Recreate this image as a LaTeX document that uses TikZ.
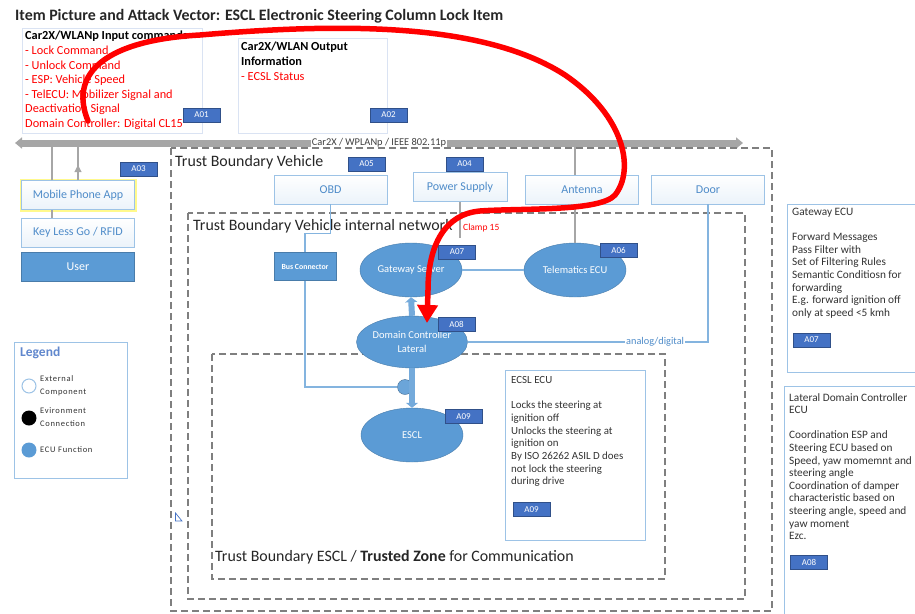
\documentclass[tikz,border=0pt]{standalone}
\usepackage{fontspec}
\setmainfont{Carlito}
\usetikzlibrary{arrows.meta,positioning,shapes.geometric}

\definecolor{tagblue}{HTML}{4472C4}
\definecolor{ecublue}{HTML}{5B9BD5}
\definecolor{boxline}{HTML}{9DC3E6}
\definecolor{paleline}{HTML}{DAE3F3}
\definecolor{busgray}{HTML}{A6A6A6}
\definecolor{dashgray}{HTML}{7F7F7F}
\definecolor{attackred}{HTML}{FF0000}
\definecolor{textblue}{HTML}{4F8CC9}

\begin{document}
\begin{tikzpicture}[x=1pt, y=-1pt,
	tag/.style = {draw=tagblue!70!black, fill=tagblue, text=white, font=\fontsize{9}{10}\selectfont, minimum width=37, minimum height=14, inner sep=0},
	ext/.style = {draw=boxline, line width=0.9, top color=white, bottom color=ecublue!12, text=textblue, font=\fontsize{12}{14}\selectfont, minimum width=113, minimum height=29, inner sep=0},
	ecu/.style = {ellipse, draw=ecublue!80!black, line width=0.4, fill=ecublue, text=white, font=\fontsize{10.5}{14}\selectfont, minimum width=102, minimum height=54, inner sep=0, align=center},
	zone/.style = {draw=dashgray, line width=1.5, dash pattern=on 7pt off 4pt},
	zonelabel/.style = {anchor=west, inner sep=0, font=\fontsize{15.9}{18}\selectfont, text=black!85},
	busline/.style = {draw=busgray, line width=1.2},
	eculine/.style = {draw=ecublue!75, line width=1.2},
	fat/.style = {draw=ecublue!85, line width=6},
	note/.style = {draw=boxline, line width=0.9},
	notetext/.style = {anchor=north west, align=left, inner sep=0, font=\fontsize{11.3}{12.6}\selectfont, text=black!80},
	legtext/.style = {anchor=west, align=left, inner sep=0, font=\fontsize{8.5}{13}\selectfont\addfontfeatures{LetterSpace=8}, text=black!80},
	attack/.style = {draw=attackred, line width=5.5, line cap=round, -{Triangle[width=20pt,length=18pt]}}
	]
	\useasboundingbox (0,0) rectangle (915,613);

	% title
	\node[anchor=west, inner sep=0, font=\fontsize{15.9}{18}\selectfont\bfseries, text=black!85] (title) at (15,16) {Item Picture and Attack Vector: ESCL Electronic Steering Column Lock Item};

	% Car2X input / output
	\node[draw=paleline, line width=0.8, minimum width=180, minimum height=105, anchor=north west, inner sep=0] (inbox) at (22,28) {};
	\node[anchor=north west, align=left, inner sep=0, font=\fontsize{12.3}{14.6}\selectfont] (intext) at (25,31)
		{\textbf{Car2X/WLANp Input commands}\\
		\color{attackred}- Lock Command\\
		\color{attackred}- Unlock Command\\
		\color{attackred}- ESP: Vehicle Speed\\
		\color{attackred}- TelECU: Mobilizer Signal and\\
		\color{attackred}Deactivation Signal\\
		\color{attackred}Domain Controller: Digital CL15};
	\node[tag] (a01) at (201.5,115) {A01};

	\node[draw=paleline, line width=0.8, minimum width=149, minimum height=95, anchor=north west, inner sep=0] (outbox) at (238,38) {};
	\node[anchor=north west, align=left, inner sep=0, font=\fontsize{12.3}{14.6}\selectfont] (outtext) at (241,42)
		{\textbf{Car2X/WLAN Output}\\
		\textbf{Information}\\
		\color{attackred}- ECSL Status};
	\node[tag] (a02) at (388.5,115) {A02};

	% bus
	\coordinate (bus w) at (15,143);
	\coordinate (bus e) at (743,143);
	\draw[draw=busgray, line width=7, {Triangle[width=11pt,length=7pt]}-{Triangle[width=11pt,length=7pt]}] (bus w) -- node[fill=white, inner sep=1pt, text=black!75, font=\fontsize{10.4}{11}\selectfont] (buslabel) {Car2X / WPLANp / IEEE 802.11p} (bus e);

	% outside the vehicle
	\node[ext, preaction={draw=yellow!45, line width=4}] (mob) at (78,195) {Mobile Phone App};
	\node[ext] (key) at (78,232.5) {Key Less Go / RFID};
	\node[ext, fill=ecublue, draw=ecublue!80!black, text=white, top color=ecublue, bottom color=ecublue] (user) at (78,267) {User};
	\node[tag] (a03) at (138.5,169) {A03};

	\draw[busline] ([xshift=-26pt]mob.north) -- ([xshift=-26pt]mob.north |- bus w);
	\draw[busline] ([xshift=-26pt]mob.south) -- ([xshift=-26pt]key.north);
	\draw[busline] (mob.north) -- (mob.north |- bus w);
	\draw[busline, -{Triangle[width=7pt,length=7pt]}] (mob.north) -- ++(0,-15);

	% legend
	\node[draw=boxline, line width=0.9, minimum width=113, minimum height=136, anchor=north west, inner sep=0] (legend) at (14,342) {};
	\node[anchor=west, inner sep=0, font=\fontsize{13.5}{15}\selectfont\bfseries, text=tagblue!85] (legtitle) at (20,353) {Legend};
	\node[circle, draw=boxline, line width=1, fill=white, minimum size=14, inner sep=0] (legext) at (29,386) {};
	\node[circle, fill=black, minimum size=15, inner sep=0] (legenv) at (29,418) {};
	\node[circle, fill=ecublue, minimum size=15, inner sep=0] (legecu) at (29,450) {};
	\node[legtext] at (40,385.5) {External\\Component};
	\node[legtext] at (40,417.5) {Evironment\\Connection};
	\node[legtext] at (40,450) {ECU Function};

	% trust boundaries
	\draw[zone] (171,148) rectangle (772,611);
	\draw[zone] (188,213) rectangle (745,599);
	\draw[zone] (212,354) rectangle (665,579);
	\node[zonelabel] (tbv) at (175,162) {Trust Boundary Vehicle};
	\node[zonelabel] (tbn) at (193,226) {Trust Boundary Vehicle internal network};
	\node[zonelabel] (tbe) at (215,557) {Trust Boundary ESCL / \textbf{Trusted Zone} for Communication};
	\draw[tagblue, line width=0.7] (175.5,513) -- (175.5,521) -- (182,521) -- cycle;

	% vehicle components
	\node[ext] (obd) at (330.5,189.5) {OBD};
	\node[ext, minimum width=94] (pwr) at (460,187) {Power Supply};
	\node[ext] (ant) at (582,189.5) {Antenna};
	\node[ext] (door) at (708,189.5) {Door};
	\node[tag] (a05) at (366.5,164) {A05};
	\node[tag] (a04) at (464.5,164) {A04};

	% ECUs
	\node[fill=ecublue, draw=ecublue!80!black, line width=0.4, text=white, font=\fontsize{7.8}{8}\selectfont\bfseries, minimum width=62, minimum height=28, inner sep=0] (bc) at (305,266.5) {Bus Connector};
	\node[ecu] (gw) at (411,270) {Gateway Server};
	\node[ecu] (tel) at (575,270) {Telematics ECU};
	\node[ecu, minimum height=52] (dc) at (412,342) {Domain Controller\\Lateral};
	\node[ecu] (escl) at (412,435) {ESCL};
	\node[circle, fill=ecublue!90, draw=ecublue!70!black, line width=0.4, minimum size=15, inner sep=0] (jn) at (405,387) {};
	\node[tag] (a07) at (457,252) {A07};
	\node[tag] (a06) at (618.5,250.5) {A06};
	\node[tag] (a08) at (456.5,324) {A08};
	\node[tag] (a09) at (463.5,416.5) {A09};

	% connections
	\draw[busline] (ant.north -| tel) -- (bus e -| tel);
	\draw[busline] (tel.north) -- (tel.north |- ant.south);
	\draw[busline] (pwr.south) -- ++(0,36) coordinate (clamp end);
	\node[anchor=west, inner sep=0, text=attackred, font=\fontsize{9.5}{10}\selectfont] (clamp) at ([shift={(3pt,10pt)}]clamp end) {Clamp 15};
	\draw[eculine] (obd.south) -- ++(0,29) -| (bc.north);
	\draw[eculine] (bc.south) |- (jn.west);
	\draw[eculine] (gw.east) -- (tel.west);
	\draw[fat, -{Triangle[width=12pt,length=5pt]}] (dc.north) -- (gw.south);
	\draw[fat, -{Triangle[width=12pt,length=5pt]}] (dc.south) -- (escl.north);
	\draw[eculine] (dc.east) -- node[pos=0.78, fill=white, inner sep=1pt, text=textblue, font=\fontsize{10.3}{11}\selectfont] (analog) {analog/digital} (dc.east -| door.south) -- (door.south);

	% ECU notes
	\node[note, minimum width=140, minimum height=170, anchor=north west, inner sep=0] (ecslbox) at (505,370) {};
	\node[notetext, font=\fontsize{10.9}{12.7}\selectfont] (ecsltext) at (511,376)
		{ECSL ECU\\[12.7pt]
		Locks the steering at\\
		ignition off\\
		Unlocks the steering at\\
		ignition on\\
		By ISO 26262 ASIL D does\\
		not lock the steering\\
		during drive};
	\node[tag] (a09b) at (531.5,509.5) {A09};

	\draw[note] (916,204) -- (787,204) -- (787,372) -- (916,372);
	\node[notetext] (gwtext) at (792,208)
		{Gateway ECU\\[12.6pt]
		Forward Messages\\
		Pass Filter with\\
		Set of Filtering Rules\\
		Semantic Conditiosn for\\
		forwarding\\
		E.g. forward ignition off\\
		only at speed <5 kmh};
	\node[tag] (a07b) at (811.5,340) {A07};

	\draw[note] (916,386) -- (784,386) -- (784,614);
	\node[notetext] (dctext) at (789,393)
		{Lateral Domain Controller\\
		ECU\\[12.6pt]
		Coordination ESP and\\
		Steering ECU based on\\
		Speed, yaw momemnt and\\
		steering angle\\
		Coordination of damper\\
		characteristic based on\\
		steering angle, speed and\\
		yaw moment\\
		Ezc.};
	\node[tag] (a08b) at (809,562.5) {A08};

	% attack vector
	\coordinate (atk start) at (88,121);
	\coordinate (atk end) at (427,323);
	\draw[attack] (atk start) .. controls (68,72) and (108,40) .. (200,35)
		.. controls (330,24) and (480,20) .. (565,75)
		.. controls (625,116) and (635,170) .. (615,195)
		.. controls (600,212) and (520,208) .. (480,211)
		.. controls (445,214) and (428,245) .. (428,290)
		-- (atk end);
\end{tikzpicture}
\end{document}
